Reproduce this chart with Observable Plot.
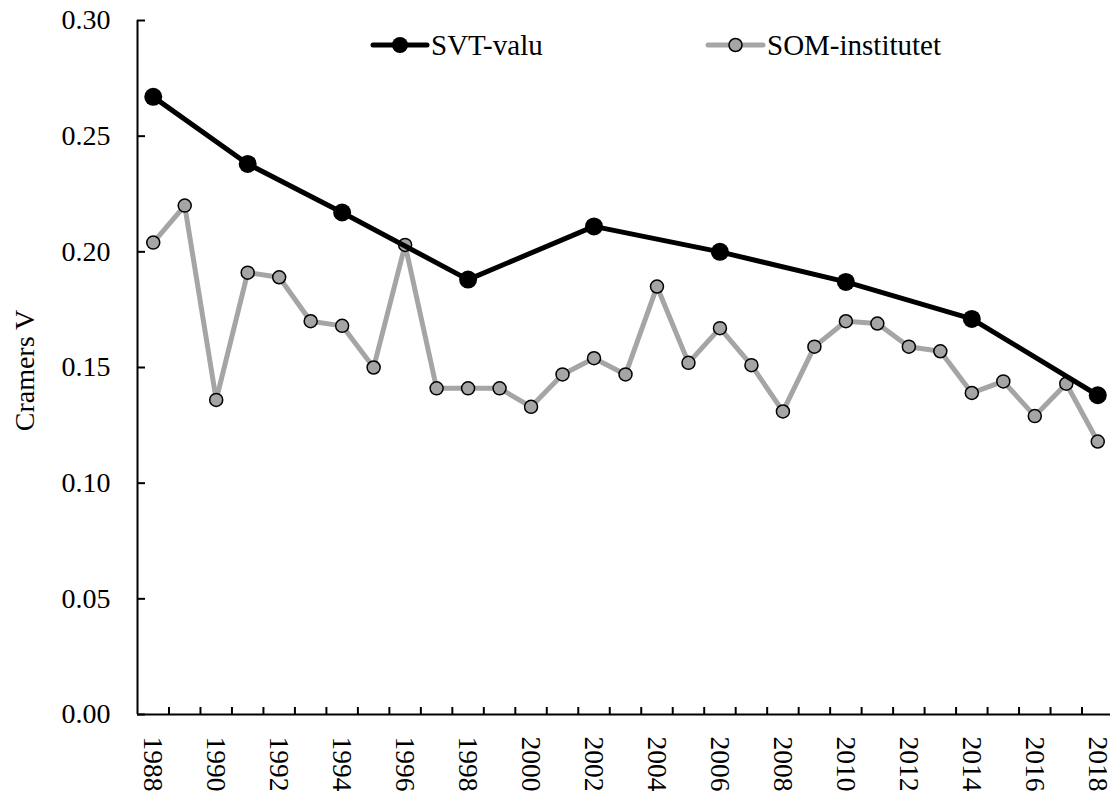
<!DOCTYPE html>
<html><head><meta charset="utf-8">
<script src="https://cdn.jsdelivr.net/npm/d3@7"></script>
<script src="https://cdn.jsdelivr.net/npm/@observablehq/plot@0.6"></script>
<style>
body{margin:0;background:#fff;}
#wrap{position:relative;width:1110px;height:794px;font-family:'Liberation Serif','Times New Roman',serif;}
#wrap svg, #wrap svg text, #wrap svg g{font-family:'Liberation Serif','Times New Roman',serif !important;}
#leg{position:absolute;left:0;top:0;pointer-events:none;}
</style></head><body><div id="wrap"></div>
<script>
const svtYears = [1988,1991,1994,1998,2002,2006,2010,2014,2018];
const svtValues = [0.267,0.238,0.217,0.188,0.211,0.200,0.187,0.171,0.138];
const somYears = [1988,1989,1990,1991,1992,1993,1994,1995,1996,1997,1998,1999,2000,2001,2002,2003,2004,2005,2006,2007,2008,2009,2010,2011,2012,2013,2014,2015,2016,2017,2018];
const somValues = [0.204,0.220,0.136,0.191,0.189,0.170,0.168,0.150,0.203,0.141,0.141,0.141,0.133,0.147,0.154,0.147,0.185,0.152,0.167,0.151,0.131,0.159,0.170,0.169,0.159,0.157,0.139,0.144,0.129,0.143,0.118];
const yTicks = [0,0.05,0.10,0.15,0.20,0.25,0.30];
const xLabelYears = [1988,1990,1992,1994,1996,1998,2000,2002,2004,2006,2008,2010,2012,2014,2016,2018];
const xTickBounds = [1988.5,1989.5,1990.5,1991.5,1992.5,1993.5,1994.5,1995.5,1996.5,1997.5,1998.5,1999.5,2000.5,2001.5,2002.5,2003.5,2004.5,2005.5,2006.5,2007.5,2008.5,2009.5,2010.5,2011.5,2012.5,2013.5,2014.5,2015.5,2016.5,2017.5];
const seriesNames = ["SVT-valu","SOM-institutet"];
const GRAY = "#a5a5a5";

const svt = svtYears.map((y,i)=>({year:y, v:svtValues[i]}));
const som = somYears.map((y,i)=>({year:y, v:somValues[i]}));
const FONT = "'Liberation Serif','Times New Roman',serif";

const chart = Plot.plot({
  width: 1110, height: 794,
  marginLeft: 137, marginRight: -3, marginTop: 20, marginBottom: 80,
  style: {fontFamily: FONT, fontSize: "28px", background: "#fff", color: "#000"},
  x: {domain: [1987.5, 2018.5], axis: null},
  y: {domain: [0, 0.30], axis: null},
  marks: [
    Plot.axisY({ticks: yTicks, tickFormat: d3.format(".2f"), tickSize: -8, tickPadding: 35, strokeWidth: 2, fontSize: 28, label: null}),
    Plot.axisX({ticks: xTickBounds, tickFormat: () => "", tickSize: -7, strokeWidth: 2, label: null}),
    Plot.axisX({ticks: xLabelYears, tickFormat: d => String(d), tickSize: 0, tickPadding: 22, tickRotate: 90, fontSize: 27.5, label: null}),
    Plot.ruleY([0], {stroke: "#000", strokeWidth: 2}),
    Plot.ruleX([1987.5], {stroke: "#000", strokeWidth: 2}),
    Plot.text(["Cramers V"], {frameAnchor: "left", dx: -112, dy: 3, rotate: -90, fontSize: 28, textAnchor: "middle", lineAnchor: "middle", fill: "#000"}),
    Plot.line(som, {x: "year", y: "v", stroke: GRAY, strokeWidth: 5}),
    Plot.dot(som, {x: "year", y: "v", r: 6.5, fill: GRAY, stroke: "#000", strokeWidth: 1.5}),
    Plot.line(svt, {x: "year", y: "v", stroke: "#000", strokeWidth: 5}),
    Plot.dot(svt, {x: "year", y: "v", r: 9, fill: "#000", stroke: "none"})
  ]
});
const wrap = document.getElementById("wrap");
wrap.appendChild(chart);

// legend
const leg = d3.select(wrap).append("svg").attr("id","leg").attr("width",1110).attr("height",90);
const items = [
  {name: seriesNames[0], x0: 373, x1: 427, stroke: "#000", r: 8, fill: "#000", mstroke: "none"},
  {name: seriesNames[1], x0: 708, x1: 763, stroke: GRAY, r: 6.5, fill: GRAY, mstroke: "#000"}
];
const g = leg.selectAll("g").data(items).join("g");
g.append("line").attr("x1",d=>d.x0).attr("x2",d=>d.x1).attr("y1",45).attr("y2",45)
  .attr("stroke",d=>d.stroke).attr("stroke-width",5).attr("stroke-linecap","round");
g.append("circle").attr("cx",d=>(d.x0+d.x1)/2).attr("cy",45).attr("r",d=>d.r)
  .attr("fill",d=>d.fill).attr("stroke",d=>d.mstroke).attr("stroke-width",1.5);
g.append("text").attr("x",d=>d.x1+4).attr("y",45).attr("dy","0.35em").attr("font-size",29)
  .attr("font-family", FONT).text(d=>d.name);
</script></body></html>
